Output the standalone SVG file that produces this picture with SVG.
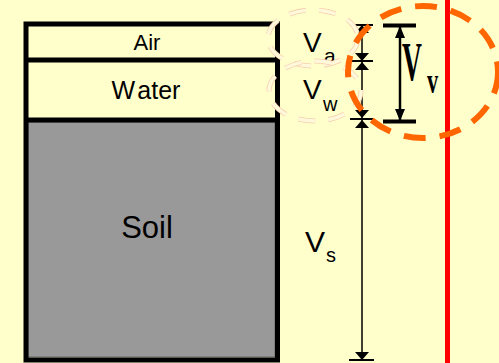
<svg xmlns="http://www.w3.org/2000/svg" width="499" height="363" viewBox="0 0 499 363">
<defs>
<style>
.lbl{font-family:"Liberation Sans",Arial,sans-serif;fill:#000}
.box{stroke:#000;stroke-width:5}
.tick{stroke:#000;stroke-width:2}
.dim{stroke:#000;stroke-width:1.5;fill:none}
.dimB{stroke:#000;stroke-width:2.5;fill:none}
.tickB{stroke:#000;stroke-width:4}
.faintO{fill:none;stroke:#F6CFAE;stroke-width:5;stroke-dasharray:17 13}
.faintI{fill:none;stroke:#FFF8DA;stroke-width:3.4;stroke-dasharray:17 13}
</style>
<marker id="ah" viewBox="0 0 10 10" refX="10" refY="5" markerWidth="8" markerHeight="14" markerUnits="userSpaceOnUse" orient="auto-start-reverse" preserveAspectRatio="none">
<path d="M0,0 L10,5 L0,10 Z" fill="#000"/>
</marker>
<marker id="ahB" viewBox="0 0 10 10" refX="10" refY="5" markerWidth="12" markerHeight="10" markerUnits="userSpaceOnUse" orient="auto-start-reverse" preserveAspectRatio="none">
<path d="M0,0 L10,5 L0,10 Z" fill="#000"/>
</marker>
</defs>
<rect x="0" y="0" width="499" height="363" fill="#FFFFCC"/>

<g id="soil">
<rect x="28" y="122" width="247" height="235" fill="#999999" stroke="#666" stroke-width="1"/>
<text class="lbl" x="147" y="238" font-size="31" text-anchor="middle">Soil</text>
</g>
<g id="water">
<text class="lbl" x="146" y="99" font-size="25" text-anchor="middle">W<tspan dx="3">ater</tspan></text>
</g>
<g id="air">
<text class="lbl" x="147" y="50" font-size="22" text-anchor="middle">Air</text>
</g>
<g id="container">
<path class="box" fill="none" d="M26,24 H277.5 V360 H26 Z"/>
<line class="box" x1="26" y1="60" x2="277.5" y2="60"/>
<line class="box" x1="26" y1="120" x2="277.5" y2="120"/>
</g>

<g id="connectors">
<line class="tick" x1="350" y1="25" x2="373" y2="25"/>
<line class="tick" x1="350" y1="61" x2="373" y2="61"/>
<line class="tick" x1="350" y1="119" x2="373" y2="119"/>
<line class="tick" x1="349" y1="360" x2="374" y2="360"/>
<line class="dim" x1="362" y1="25" x2="362" y2="61" marker-start="url(#ah)" marker-end="url(#ah)"/>
<line class="dim" x1="362" y1="62" x2="362" y2="118" marker-start="url(#ah)" marker-end="url(#ah)"/>
<line class="dim" x1="362" y1="120" x2="362" y2="360" marker-start="url(#ah)" marker-end="url(#ah)"/>
<line class="tickB" x1="383" y1="25.5" x2="416" y2="25.5"/>
<line class="tickB" x1="383" y1="121.5" x2="416" y2="121.5"/>
<line class="dimB" x1="400" y1="26" x2="400" y2="121" marker-start="url(#ahB)" marker-end="url(#ahB)"/>
</g>

<g id="labels">
<text class="lbl" x="303" y="52" font-size="28">V</text>
<text class="lbl" x="324" y="63" font-size="21">a</text>
<text class="lbl" x="303" y="99" font-size="28">V</text>
<text class="lbl" x="323" y="111" font-size="20">w</text>
<text class="lbl" x="305" y="252" font-size="30">V</text>
<text class="lbl" x="326" y="262" font-size="20">s</text>
<text font-family="'Liberation Serif','Times New Roman',serif" font-weight="bold" font-size="55" transform="translate(402,80) scale(0.5,1)">V</text>
<text font-family="'Liberation Serif','Times New Roman',serif" font-weight="bold" font-size="36" transform="translate(427,93) scale(0.62,1)">v</text>
</g>

<g id="highlight-a">
<ellipse class="faintO" cx="313" cy="38" rx="45" ry="28"/>
<ellipse class="faintI" cx="313" cy="38" rx="45" ry="28"/>
</g>
<g id="highlight-w">
<ellipse class="faintO" cx="315" cy="91" rx="46" ry="30"/>
<ellipse class="faintI" cx="315" cy="91" rx="46" ry="30"/>
</g>

<g id="red-line">
<line x1="447.5" y1="0" x2="447.5" y2="363" stroke="#FF0000" stroke-width="5"/>
</g>
<g id="highlight-v">
<ellipse cx="423" cy="72" rx="75" ry="66" fill="none" stroke="#FF6600" stroke-width="6" stroke-dasharray="22 14"/>
</g>
</svg>
